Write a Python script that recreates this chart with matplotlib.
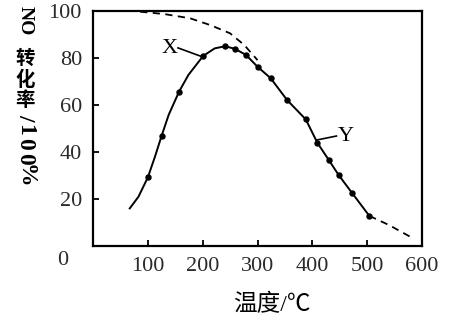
import matplotlib
matplotlib.use("Agg")
import matplotlib.pyplot as plt

# Solid curve path (measured along the line)
curve_x = [67, 83, 100, 113, 125, 138, 157, 174, 201, 222, 241, 259, 279, 300, 324, 354, 388, 409, 430, 448, 472, 504]
curve_y = [16.0, 21.0, 29.2, 38.0, 46.8, 55.8, 65.7, 72.8, 80.9, 84.1, 85.0, 83.9, 81.3, 76.3, 71.4, 62.1, 53.9, 44.0, 36.6, 30.2, 22.7, 12.8]
# Measured data points (dots)
dot_x = [100, 125, 157, 201, 241, 259, 279, 300, 324, 354, 388, 409, 430, 448, 472, 504]
dot_y = [29.2, 46.8, 65.7, 80.9, 85.0, 83.9, 81.3, 76.3, 71.4, 62.1, 53.9, 44.0, 36.6, 30.2, 22.7, 12.8]
# Upper dashed curve (equilibrium)
upper_x = [86, 130, 177, 214, 250, 276, 300]
upper_y = [99.7, 98.7, 96.9, 94.0, 90.5, 85.5, 79.1]
# Tail dashed
tail_x = [504, 540, 578]
tail_y = [12.8, 8.9, 4.0]

xticks = [100, 200, 300, 400, 500, 600]
yticks = [20, 40, 60, 80, 100]

W, H = 450, 323
fig = plt.figure(figsize=(W / 100, H / 100), dpi=100)
ax = fig.add_axes([93 / W, 1 - 246 / H, (422 - 93) / W, (246 - 11) / H])

serif = ["Liberation Serif", "DejaVu Serif"]
cjk = ["Liberation Serif", "Noto Sans CJK SC"]

ax.plot(upper_x, upper_y, color="black", lw=1.3, ls=(0, (4, 3)))
ax.plot(tail_x, tail_y, color="black", lw=1.3, ls=(0, (4, 3)))
ax.plot(curve_x, curve_y, color="black", lw=1.4)
ax.plot(dot_x, dot_y, ls="none", marker="o", ms=3.6, color="black")

ax.set_xlim(0, 600)
ax.set_ylim(0, 100)
ax.set_xticks(xticks)
ax.set_yticks(yticks)
ax.tick_params(direction="in", length=4, width=1.3, labelsize=16, pad=8, colors="black")
for lab in ax.get_xticklabels() + ax.get_yticklabels():
    lab.set_family(serif)
    lab.set_color("#2a2a2a")
for s in ax.spines.values():
    s.set_linewidth(1.6)

ax.text(-0.075, -0.06, "0", transform=ax.transAxes, ha="right", va="center",
        fontsize=16, family=serif, color="#2a2a2a")

# annotations
ax.plot([155, 200.6], [84.3, 80.4], color="black", lw=1.2)
ax.text(140, 84, "X", ha="center", va="center", fontsize=16, family=serif)
ax.plot([408, 444], [45.1, 46.8], color="black", lw=1.2)
ax.text(461, 46.4, "Y", ha="center", va="center", fontsize=16, family=serif)

# vertical y-axis title: Latin parts rotated, CJK characters upright
ylab_x = 25 / W
def ytxt(s, ypx, rot, size):
    fig.text(ylab_x, 1 - ypx / H, s, rotation=rot, ha="center", va="center",
             fontsize=size, fontweight="bold", family=cjk, rotation_mode="anchor")

ytxt("NO", 21, -90, 14)
ytxt("转", 59, 0, 14)
ytxt("化", 80, 0, 14)
ytxt("率", 101, 0, 14)
ytxt("/", 117, -90, 17)
ytxt("1", 130, -90, 17)
ytxt("0", 144, -90, 17)
ytxt("0", 159, -90, 17)
ytxt("%", 176, -90, 17)

fig.text(272 / W, 1 - 305 / H, "温度/℃", ha="center", va="center",
         fontsize=17, family=cjk)

fig.savefig("out.png", dpi=100)
